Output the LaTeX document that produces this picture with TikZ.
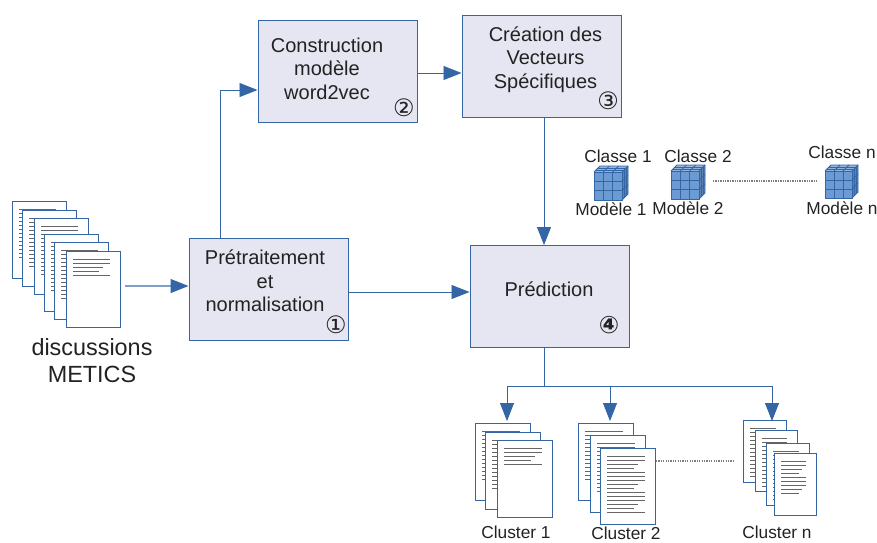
\documentclass[tikz,border=0pt]{standalone}
\usepackage{fontspec}
\setmainfont{Liberation Sans}
\newfontfamily\symfont{DejaVu Sans}
\usetikzlibrary{arrows.meta}
\definecolor{edgeblue}{HTML}{3465A4}
\definecolor{softblue}{HTML}{7F9FCB}
\definecolor{boxfill}{HTML}{E6E6F2}
\definecolor{cubefill}{HTML}{6C9AD2}
\definecolor{txt}{HTML}{222222}
\tikzset{
  x=1pt,y=-1pt,
  procbox/.style={draw=edgeblue,fill=boxfill,line width=.9pt,minimum width=159.5pt,minimum height=101.5pt,anchor=north west,inner sep=0pt},
  boxtext/.style={text=txt,align=center,font=\fontsize{20}{23.5}\selectfont,inner sep=0pt},
  smalltext/.style={text=txt,font=\fontsize{17.3}{20}\selectfont,inner sep=0pt},
  numtext/.style={text=txt,font=\symfont\fontsize{24}{26}\selectfont,inner sep=0pt},
  flow/.style={draw=edgeblue,line width=.8pt},
  flowarrow/.style={flow,-{Triangle[length=18pt,width=14pt,color=edgeblue]}},
  softarrow/.style={draw=softblue,line width=1.1pt,-{Triangle[length=18pt,width=14pt,color=edgeblue]}},
  leader/.style={draw=gray,line width=1.1pt,dash pattern=on 1.3pt off 1.1pt},
  sheet/.style={draw=edgeblue,fill=white,line width=.9pt,anchor=north west,inner sep=0pt},
  txtline/.style={draw=black!60,line width=.9pt},
}
% \sheetat{name}{x}{y}{w}{h}{line count}
\newcommand{\sheetat}[6]{%
  \node[sheet,minimum width=#4pt,minimum height=#5pt] (#1) at (#2,#3) {};
  \foreach \k [evaluate=\k as \yy using #3+8+(\k-1)*4,
               evaluate=\k as \ww using {(#4-17)*(1-0.30*(mod(\k*7,5)==3)-0.18*(mod(\k*7,5)==1))}] in {1,...,#6}
    \draw[txtline] (#2+7,\yy) -- (#2+7+\ww,\yy);
}
% \cubeat{name}{x}{y}{size}
\newcommand{\cubeat}[4]{%
  \coordinate (#1) at (#2+#4/2,#3+#4/2);
  \begin{scope}[shift={(#2,#3)},draw=edgeblue,line width=.8pt,line join=round]
    \fill[cubefill!85!black] (#4,0) -- (#4+6,-6) -- (#4+6,#4-6) -- (#4,#4) -- cycle;
    \fill[cubefill!75!white] (0,0) -- (6,-6) -- (#4+6,-6) -- (#4,0) -- cycle;
    \filldraw[fill=cubefill] (0,0) rectangle (#4,#4);
    \foreach \t in {0.333,0.667}{
      \draw (\t*#4,0) -- (\t*#4,#4);
      \draw (0,\t*#4) -- (#4,\t*#4);
      \draw (\t*#4,0) -- (\t*#4+6,-6);
      \draw (#4,\t*#4) -- (#4+6,\t*#4-6);
      \draw (\t*6,-\t*6) -- (#4+\t*6,-\t*6);
      \draw (#4+\t*6,-\t*6) -- (#4+\t*6,#4-\t*6);
    }
    \draw (0,0) -- (6,-6) -- (#4+6,-6) -- (#4+6,#4-6) -- (#4,#4);
    \draw (#4,0) -- (#4+6,-6);
  \end{scope}
}
\begin{document}
\begin{tikzpicture}
\useasboundingbox (0,0) rectangle (877,542);

% source documents
\sheetat{sa}{12}{201}{54}{77}{13}
\sheetat{sb}{22}{210}{54}{76}{13}
\sheetat{sc}{34}{218}{54}{76}{13}
\sheetat{sd}{44}{234}{54}{77}{13}
\sheetat{se}{54}{242}{54}{77}{13}
\sheetat{sf}{66}{251}{54}{76}{5}
\node[text=txt,align=center,font=\fontsize{23.4}{27}\selectfont,inner sep=0pt] (srclabel) at (92,361) {discussions\\METICS};

% process boxes
\node[procbox] (pre) at (188.5,238) {};
\node[procbox] (con) at (257.5,20) {};
\node[procbox] (cre) at (461.5,15) {};
\node[procbox] (pred) at (469.5,245) {};
\node[boxtext] (pretxt) at (265,281) {Prétraitement\\et\\normalisation};
\node[boxtext] (contxt) at (327,68.5) {Construction\\modèle\\word2vec};
\node[boxtext] (cretxt) at (545.5,59.5) {Création des\\Vecteurs\\Spécifiques};
\node[boxtext] (predtxt) at (549,289.5) {Prédiction};
\node[numtext] (n1) at (336,325) {①};
\node[numtext] (n2) at (404,108) {②};
\node[numtext] (n3) at (608,101) {③};
\node[numtext,font=\symfont\bfseries\fontsize{24}{26}\selectfont] (n4) at (609,325) {④};

% connector helpers
\coordinate (srcout) at (125,286);
\coordinate (preup) at (220,238);
\coordinate (prein) at (pre.west |- srcout);
\coordinate (conin) at (257.5,90);
\coordinate (conout) at (417,73);
\coordinate (crein) at (461.5,73);
\coordinate (creout) at (544,116.5);
\coordinate (predin) at (544,245);
\coordinate (preout) at (348,292);
\coordinate (predleft) at (469.5,292);
\coordinate (predout) at (544,346.5);
\coordinate (fork) at (544,386);
\coordinate (ca) at (507,421);
\coordinate (cb) at (610,421);
\coordinate (cc) at (772,421);

\draw[softarrow] (srcout) -- (prein);
\draw[flowarrow] (preup) |- (conin);
\draw[flowarrow] (conout) -- (crein);
\draw[flowarrow] (creout) -- (predin);
\draw[flowarrow] (preout) -- (predleft);
\draw[flow] (predout) -- (fork);
\draw[flowarrow] (fork) -| (ca);
\draw[flowarrow] (fork) -| (cb);
\draw[flowarrow] (fork) -| (cc);

% class models
\node[smalltext] (cl1) at (618,156) {Classe 1};
\node[smalltext] (cl2) at (698,156) {Classe 2};
\node[smalltext] (cln) at (842,152) {Classe n};
\cubeat{cub1}{594}{172}{28}
\cubeat{cub2}{671}{171}{28}
\cubeat{cubn}{825}{171}{27}
\node[smalltext] (mo1) at (611,209) {Modèle 1};
\node[smalltext] (mo2) at (688,208) {Modèle 2};
\node[smalltext] (mon) at (842,208) {Modèle n};
\coordinate (dotsa) at (713,181);
\coordinate (dotsb) at (817,181);
\draw[leader] (dotsa) -- (dotsb);

% clusters
\sheetat{ka}{475}{423}{55}{77}{13}
\sheetat{kb}{485}{432}{55}{77}{13}
\sheetat{kc}{497}{440}{55}{77}{5}
\sheetat{la}{578}{423}{55}{77}{13}
\sheetat{lb}{590}{435}{55}{77}{13}
\sheetat{lc}{600}{448}{55}{76}{15}
\sheetat{ma}{743}{420}{43}{62}{13}
\sheetat{mb}{755}{430}{42}{61}{13}
\sheetat{mc}{766}{443}{43}{62}{13}
\sheetat{md}{774}{453}{42}{62}{9}
\coordinate (dotsc) at (733,461);
\draw[leader] (lc.east |- dotsc) -- (dotsc);
\node[smalltext] (ck1) at (516,532.5) {Cluster 1};
\node[smalltext] (ck2) at (626,533) {Cluster 2};
\node[smalltext] (ckn) at (777,532.5) {Cluster n};
\end{tikzpicture}
\end{document}
